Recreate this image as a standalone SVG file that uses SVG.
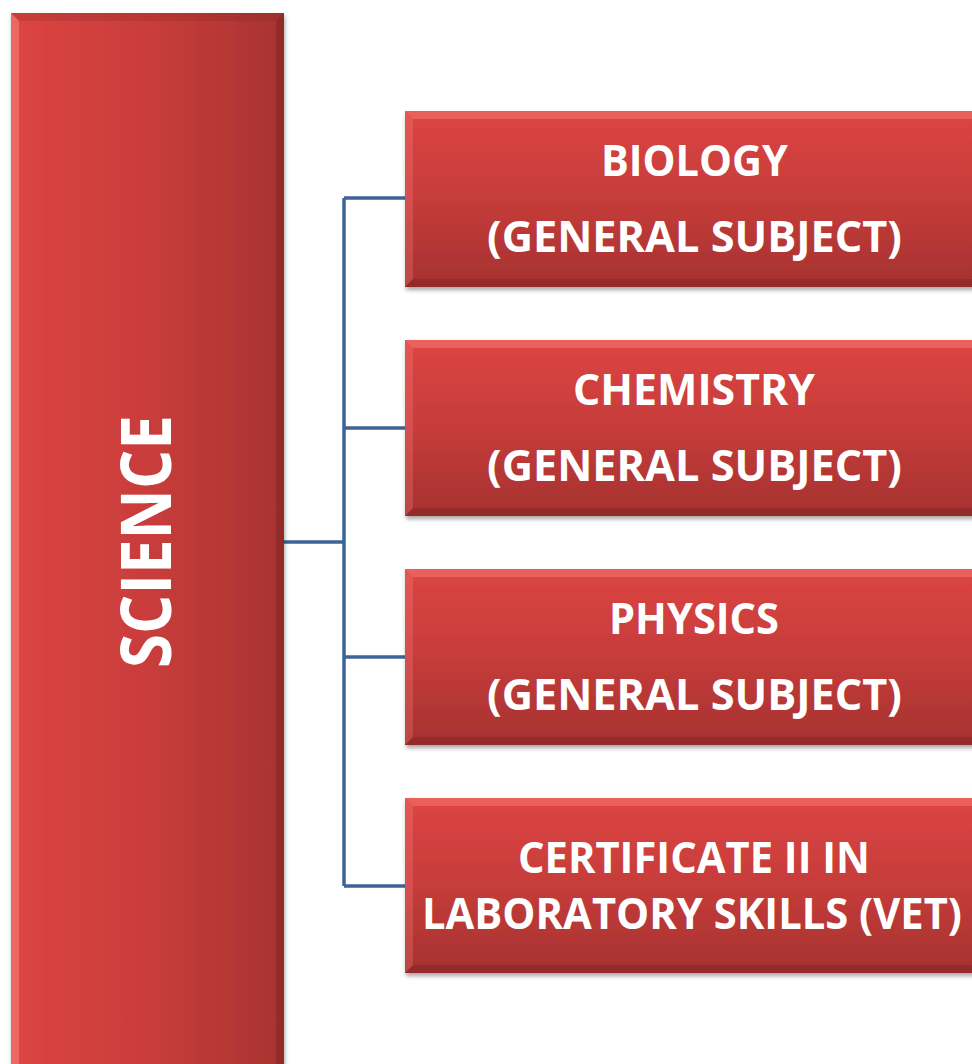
<svg xmlns="http://www.w3.org/2000/svg" width="972" height="1064" viewBox="0 0 972 1064">
<style>
.t{font-family:"Open Sans","Liberation Sans",sans-serif;font-weight:bold;fill:#ffffff;text-anchor:middle;font-size:43px}
.conn{fill:none;stroke:#3c6497;stroke-width:3.5}
</style>
<defs>
<linearGradient id="gh" x1="0" y1="0" x2="1" y2="0">
<stop offset="0" stop-color="#dc4543"/>
<stop offset="0.5" stop-color="#c93d3b"/>
<stop offset="1" stop-color="#a83331"/>
</linearGradient>
<linearGradient id="gv" x1="0" y1="0" x2="0" y2="1">
<stop offset="0" stop-color="#dc4543"/>
<stop offset="0.5" stop-color="#c63c3a"/>
<stop offset="1" stop-color="#a53230"/>
</linearGradient>
<filter id="sh" x="-10%" y="-10%" width="120%" height="120%">
<feDropShadow dx="1" dy="3" stdDeviation="2" flood-color="#000" flood-opacity="0.35"/>
</filter>
</defs>
<g id="connectors">
<path class="conn" d="M284 542 H344 M344 198 V886 M344 198 H406 M344 428 H406 M344 657 H406 M344 886 H406"/>
</g>
<g id="science">
<rect x="11" y="13" width="273" height="1060" fill="url(#gh)" filter="url(#sh)"/>
<path d="M11 13 H284 L276 21 H19 Z" fill="#7a2220" opacity="0.2"/>
<path d="M11 13 V1073 L19 1065 V21 Z" fill="#ff8a88" opacity="0.5"/>
<path d="M284 13 V1073 L276 1065 V21 Z" fill="#6b1d1c" opacity="0.35"/>
<text class="t" transform="translate(171 541.5) rotate(-90)" style="font-size:70px" textLength="253" lengthAdjust="spacingAndGlyphs">SCIENCE</text>
</g>
<g id="biology">
<rect x="405" y="111" width="580" height="176" fill="url(#gv)" filter="url(#sh)"/>
<path d="M405 111 H985 V119 H413 Z" fill="#ff8a88" opacity="0.4"/>
<path d="M405 111 V287 L413 279 V119 Z" fill="#ff8a88" opacity="0.25"/>
<path d="M405 287 H985 V279 H413 Z" fill="#6b1d1c" opacity="0.3"/>
<text class="t" x="694.5" y="176" textLength="187" lengthAdjust="spacingAndGlyphs">BIOLOGY</text>
<text class="t" x="694.5" y="252" textLength="415" lengthAdjust="spacingAndGlyphs">(GENERAL SUBJECT)</text>
</g>
<g id="chemistry">
<rect x="405" y="340" width="580" height="176" fill="url(#gv)" filter="url(#sh)"/>
<path d="M405 340 H985 V348 H413 Z" fill="#ff8a88" opacity="0.4"/>
<path d="M405 340 V516 L413 508 V348 Z" fill="#ff8a88" opacity="0.25"/>
<path d="M405 516 H985 V508 H413 Z" fill="#6b1d1c" opacity="0.3"/>
<text class="t" x="694" y="405" textLength="242" lengthAdjust="spacingAndGlyphs">CHEMISTRY</text>
<text class="t" x="694.5" y="481" textLength="415" lengthAdjust="spacingAndGlyphs">(GENERAL SUBJECT)</text>
</g>
<g id="physics">
<rect x="405" y="569" width="580" height="176" fill="url(#gv)" filter="url(#sh)"/>
<path d="M405 569 H985 V577 H413 Z" fill="#ff8a88" opacity="0.4"/>
<path d="M405 569 V745 L413 737 V577 Z" fill="#ff8a88" opacity="0.25"/>
<path d="M405 745 H985 V737 H413 Z" fill="#6b1d1c" opacity="0.3"/>
<text class="t" x="694" y="634" textLength="170" lengthAdjust="spacingAndGlyphs">PHYSICS</text>
<text class="t" x="694.5" y="710" textLength="415" lengthAdjust="spacingAndGlyphs">(GENERAL SUBJECT)</text>
</g>
<g id="certificate">
<rect x="405" y="798" width="580" height="175" fill="url(#gv)" filter="url(#sh)"/>
<path d="M405 798 H985 V806 H413 Z" fill="#ff8a88" opacity="0.4"/>
<path d="M405 798 V973 L413 965 V806 Z" fill="#ff8a88" opacity="0.25"/>
<path d="M405 973 H985 V965 H413 Z" fill="#6b1d1c" opacity="0.3"/>
<text class="t" x="694" y="873" textLength="352" lengthAdjust="spacingAndGlyphs">CERTIFICATE II IN</text>
<text class="t" x="692" y="929" textLength="540" lengthAdjust="spacingAndGlyphs">LABORATORY SKILLS (VET)</text>
</g>
</svg>
